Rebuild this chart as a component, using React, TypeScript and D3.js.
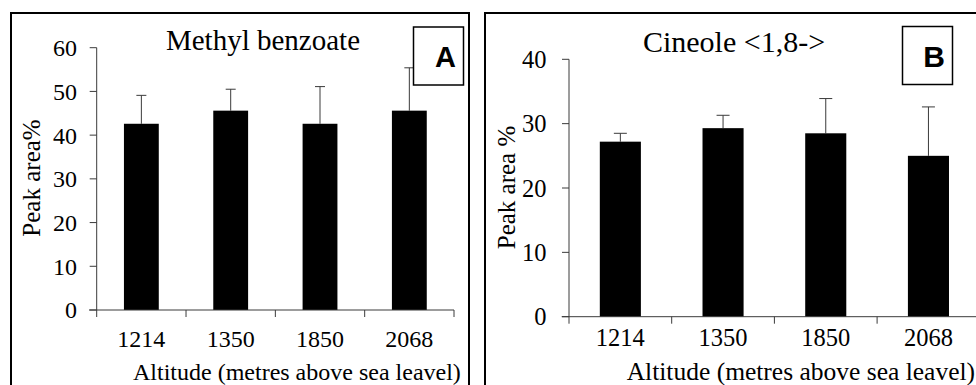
import React from "react";
import * as d3 from "d3";

const categories = ["1214", "1350", "1850", "2068"];

const methylValues = [42.6, 45.6, 42.6, 45.6];
const methylErrTop = [49.1, 50.5, 51.1, 55.4];
const methylTicks = [0, 10, 20, 30, 40, 50, 60];

const cineoleValues = [27.2, 29.3, 28.5, 25.0];
const cineoleErrTop = [28.5, 31.3, 33.9, 32.6];
const cineoleTicks = [0, 10, 20, 30, 40];

const SERIF = "Liberation Serif, Tinos, Times New Roman, DejaVu Serif, serif";
const SANS = "Liberation Sans, Arimo, Arial, DejaVu Sans, sans-serif";

type PanelProps = {
  frame: { x: number; y: number; w: number; h: number };
  xRange: [number, number];
  yRange: [number, number];
  yMax: number;
  values: number[];
  errTop: number[];
  ticks: number[];
  barFrac: number;
  capW: number;
  title: string;
  titleX: number;
  titleY: number;
  titleSize: number;
  letter: string;
  box: { x: number; y: number; w: number; h: number };
  letterX: number;
  letterY: number;
  letterSize: number;
  yTitle: string;
  yTitleX: number;
  yTitleY: number;
  yTitleSize: number;
  xTitle: string;
  xTitleX: number;
  xTitleY: number;
  xTitleSize: number;
  tickLabelX: number;
  tickSize: number;
  xLabelY: number;
  xLabelSize: number;
  axisStart: number;
};

function Panel(p: PanelProps) {
  const x = d3.scaleBand<string>().domain(categories).range(p.xRange).padding(0);
  const y = d3.scaleLinear().domain([0, p.yMax]).range(p.yRange);
  const bw = x.bandwidth() * p.barFrac;
  const y0 = y(0);
  const axisColor = "#3a3a3a";
  const textStyle = { fontFamily: SERIF };
  return (
    <g>
      <rect x={p.frame.x} y={p.frame.y} width={p.frame.w} height={p.frame.h} fill="none" stroke="#000" strokeWidth={2} />
      {categories.map((c, i) => {
        const cx = (x(c) as number) + x.bandwidth() / 2;
        return (
          <g key={c}>
            <line x1={cx} x2={cx} y1={y(p.values[i])} y2={y(p.errTop[i])} stroke={axisColor} strokeWidth={1} />
            <line x1={cx - p.capW / 2} x2={cx + p.capW / 2} y1={y(p.errTop[i])} y2={y(p.errTop[i])} stroke={axisColor} strokeWidth={1} />
            <rect x={cx - bw / 2} y={y(p.values[i])} width={bw} height={y0 - y(p.values[i])} fill="#000" />
            <text x={cx} y={p.xLabelY} textAnchor="middle" style={textStyle} fontSize={p.xLabelSize} fill="#000">{c}</text>
          </g>
        );
      })}
      <line x1={p.xRange[0]} x2={p.xRange[0]} y1={y(p.yMax)} y2={y0} stroke={axisColor} strokeWidth={1} />
      {p.ticks.map((t) => (
        <g key={t}>
          <line x1={p.xRange[0] - 7} x2={p.xRange[0]} y1={y(t)} y2={y(t)} stroke={axisColor} strokeWidth={1} />
          <text x={p.tickLabelX} y={y(t)} dy="0.35em" textAnchor="end" style={textStyle} fontSize={p.tickSize} fill="#000">{t}</text>
        </g>
      ))}
      <line x1={p.axisStart} x2={p.xRange[1]} y1={y0} y2={y0} stroke={axisColor} strokeWidth={1} />
      {[...categories.map((c) => x(c) as number), p.xRange[1]].map((tx, i) => (
        <line key={i} x1={tx} x2={tx} y1={y0} y2={y0 + 7} stroke={axisColor} strokeWidth={1} />
      ))}
      <text x={p.titleX} y={p.titleY} textAnchor="middle" style={textStyle} fontSize={p.titleSize} fill="#000">{p.title}</text>
      <rect x={p.box.x} y={p.box.y} width={p.box.w} height={p.box.h} fill="#fff" stroke="#000" strokeWidth={1.5} />
      <text x={p.letterX} y={p.letterY} textAnchor="middle" style={{ fontFamily: SANS }} fontWeight="bold" fontSize={p.letterSize} fill="#000">{p.letter}</text>
      <text transform={`translate(${p.yTitleX},${p.yTitleY}) rotate(-90)`} textAnchor="middle" style={textStyle} fontSize={p.yTitleSize} fill="#000">{p.yTitle}</text>
      <text x={p.xTitleX} y={p.xTitleY} textAnchor="start" style={textStyle} fontSize={p.xTitleSize} fill="#000">{p.xTitle}</text>
    </g>
  );
}

export default function App() {
  return (
    <svg width={976} height={385} style={{ position: "absolute", left: 0, top: 0, background: "#fff" }}>
      <rect x={0} y={0} width={976} height={385} fill="#fff" />
      <Panel
        frame={{ x: 11, y: 13, w: 458, h: 400 }}
        xRange={[96.7, 454]}
        yRange={[310, 47.7]}
        yMax={60}
        values={methylValues}
        errTop={methylErrTop}
        ticks={methylTicks}
        barFrac={0.39}
        capW={10}
        title="Methyl benzoate"
        titleX={263}
        titleY={49.5}
        titleSize={29}
        letter="A"
        box={{ x: 413.5, y: 27, w: 50, h: 58 }}
        letterX={445.5}
        letterY={66.5}
        letterSize={29}
        yTitle="Peak area%"
        yTitleX={40}
        yTitleY={178}
        yTitleSize={25}
        xTitle="Altitude (metres above sea leavel)"
        xTitleX={133}
        xTitleY={380}
        xTitleSize={24}
        tickLabelX={77}
        tickSize={24}
        xLabelY={347}
        xLabelSize={24}
        axisStart={89}
      />
      <Panel
        frame={{ x: 485, y: 13, w: 520, h: 400 }}
        xRange={[569, 979.8]}
        yRange={[316.7, 59.3]}
        yMax={40}
        values={cineoleValues}
        errTop={cineoleErrTop}
        ticks={cineoleTicks}
        barFrac={0.4}
        capW={13}
        title="Cineole <1,8->"
        titleX={734}
        titleY={52}
        titleSize={30}
        letter="B"
        box={{ x: 902.5, y: 26.5, w: 50, h: 58 }}
        letterX={934}
        letterY={67}
        letterSize={30}
        yTitle="Peak area %"
        yTitleX={515}
        yTitleY={187.5}
        yTitleSize={25}
        xTitle="Altitude (metres above sea leavel)"
        xTitleX={626.7}
        xTitleY={380}
        xTitleSize={25.5}
        tickLabelX={546.5}
        tickSize={24.5}
        xLabelY={346}
        xLabelSize={24.5}
        axisStart={561.7}
      />
    </svg>
  );
}
